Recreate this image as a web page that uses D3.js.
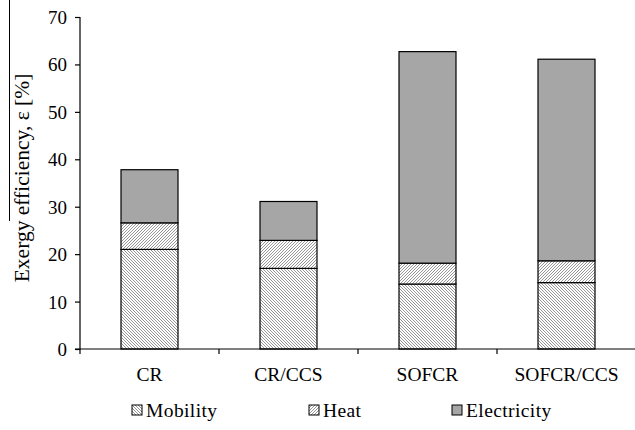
<!DOCTYPE html>
<html>
<head>
<meta charset="utf-8">
<script src="https://cdn.jsdelivr.net/npm/d3@7"></script>
<style>
  body { margin: 0; background: #fff; }
</style>
</head>
<body>
<svg id="chart" width="635" height="430"></svg>
<script>
const categories = ["CR", "CR/CCS", "SOFCR", "SOFCR/CCS"];
const seriesNames = ["Mobility", "Heat", "Electricity"];
const mobility = [21.0, 17.0, 13.7, 14.0];
const heat = [5.6, 5.9, 4.4, 4.6];
const electricity = [11.2, 8.2, 44.6, 42.5];
const yTicks = [0, 10, 20, 30, 40, 50, 60, 70];

const serif = "Liberation Serif";

const svg = d3.select("#chart");
const defs = svg.append("defs");

function hatch(id, dir) {
    const p = defs.append("pattern")
        .attr("id", id)
        .attr("patternUnits", "userSpaceOnUse")
        .attr("width", 3).attr("height", 3);
    p.append("rect").attr("width", 3).attr("height", 3).attr("fill", "#fff");
    const d = dir === "back"
        ? "M-1,-1 L4,4 M-1,2 L1,4 M2,-1 L4,1"
        : "M-1,4 L4,-1 M-1,1 L1,-1 M2,4 L4,2";
    p.append("path").attr("d", d).attr("stroke", "#8a8a8a").attr("stroke-width", 0.9);
}
hatch("hMob", "back");
hatch("hHeat", "fwd");

const fills = {
    "Mobility": "url(#hMob)",
    "Heat": "url(#hHeat)",
    "Electricity": "#a6a6a6"
};

const data = categories.map((c, i) => ({
    cat: c, Mobility: mobility[i], Heat: heat[i], Electricity: electricity[i]
}));
const stacked = d3.stack().keys(seriesNames)(data);

const x = d3.scaleBand().domain(categories).range([80, 636]).paddingInner(0.59).paddingOuter(0.295);
const y = d3.scaleLinear().domain([0, 70]).range([349, 17]);

// bars
svg.selectAll(".layer")
    .data(stacked)
    .enter().append("g")
    .attr("class", "layer")
    .attr("fill", d => fills[d.key])
    .selectAll("rect")
    .data(d => d)
    .enter().append("rect")
    .attr("x", d => x(d.data.cat))
    .attr("y", d => y(d[1]))
    .attr("width", x.bandwidth())
    .attr("height", d => y(d[0]) - y(d[1]))
    .attr("stroke", "#000")
    .attr("stroke-width", 1.2);

// y axis
const yAxis = svg.append("g")
    .attr("transform", "translate(80,0)")
    .call(d3.axisLeft(y).tickValues(yTicks).tickSize(5).tickPadding(8).tickFormat(d3.format("d")));
yAxis.selectAll("text")
    .style("font-family", serif)
    .style("font-size", "19px")
    .attr("fill", "#000")
    .attr("dy", "0.34em");
yAxis.selectAll("line, path").attr("stroke", "#000").attr("stroke-width", 1.2);
yAxis.select(".domain").attr("d", "M-5,17.5H0V349.5");

// x axis, ticks between categories
const step = x.step();
const bounds = d3.range(categories.length + 1).map(i => 80 + i * step);
svg.append("line")
    .attr("x1", 75).attr("x2", 636)
    .attr("y1", y(0)).attr("y2", y(0))
    .attr("stroke", "#000").attr("stroke-width", 1.2);
svg.selectAll(".xtick")
    .data(bounds.slice(0, -1))
    .enter().append("line")
    .attr("x1", d => d).attr("x2", d => d)
    .attr("y1", y(0)).attr("y2", y(0) + 5)
    .attr("stroke", "#000").attr("stroke-width", 1.2);
svg.selectAll(".xlab")
    .data(categories)
    .enter().append("text")
    .attr("x", d => x(d) + x.bandwidth() / 2)
    .attr("y", 381)
    .attr("text-anchor", "middle")
    .style("font-family", serif)
    .style("font-size", "19.5px")
    .text(d => d);

// y label
svg.append("text")
    .attr("transform", "translate(29,178) rotate(-90)")
    .attr("text-anchor", "middle")
    .style("font-family", serif)
    .style("font-size", "21.5px")
    .text("Exergy efficiency, \u03b5  [%]");
svg.append("line")
    .attr("x1", 9.5).attr("x2", 9.5).attr("y1", 0).attr("y2", 221)
    .attr("stroke", "#000").attr("stroke-width", 1);

// legend
const legendX = [132, 309, 452];
const legend = svg.selectAll(".leg")
    .data(seriesNames)
    .enter().append("g")
    .attr("transform", (d, i) => `translate(${legendX[i]},405)`);
legend.append("rect")
    .attr("width", 10).attr("height", 10)
    .attr("fill", d => fills[d])
    .attr("stroke", "#000").attr("stroke-width", 1);
legend.append("text")
    .attr("x", 14).attr("y", 12)
    .style("font-family", serif)
    .style("font-size", "19.5px")
    .style("letter-spacing", "0.4px")
    .text(d => d);
</script>
</body>
</html>
